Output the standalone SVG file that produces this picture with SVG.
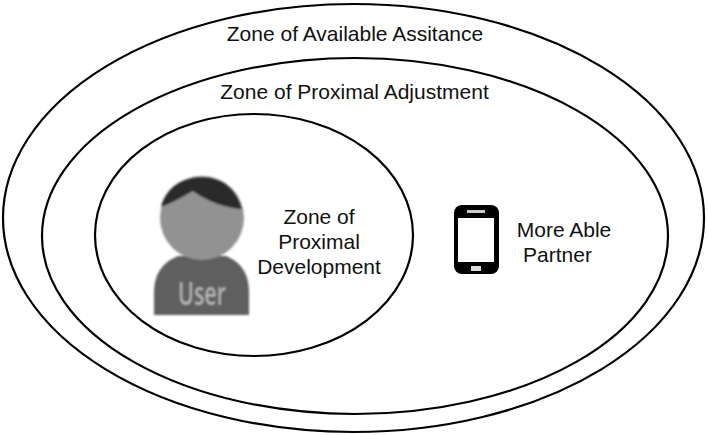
<svg xmlns="http://www.w3.org/2000/svg" width="708" height="435" viewBox="0 0 708 435">
<style>
.z{fill:none;stroke:#000;stroke-width:2.2}
text{font-family:"Liberation Sans",Arial,sans-serif;font-size:21px;fill:#111;text-anchor:middle}
</style>
<defs><filter id="b" x="-10%" y="-10%" width="120%" height="120%"><feGaussianBlur stdDeviation="0.9"/></filter></defs>
<rect width="708" height="435" fill="#fff"/>
<g id="zone-assistance"><ellipse class="z" cx="353.500" cy="218" rx="350.500" ry="214"/><text x="355" y="41">Zone of Available Assitance</text></g>
<g id="zone-adjustment"><ellipse class="z" cx="355" cy="236" rx="313" ry="178"/><text x="354.500" y="99">Zone of Proximal Adjustment</text></g>
<g id="zone-development"><ellipse class="z" cx="254" cy="235" rx="159" ry="121"/><text x="319" y="224">Zone of</text><text x="319" y="249">Proximal</text><text x="319" y="274">Development</text></g>
<g id="user">
<g filter="url(#b)">
<path d="M154 315V293C154 272 164 262 178 256H226C240 262 249 272 249 293V315Z" fill="#5f5f5f"/>
<circle cx="202" cy="218" r="42" fill="#929292"/>
<path d="M161 207C166 187 183 177 202 177C222 177 237 189 242 209C226 208 208 202 193 191C184 196 172 203 161 207Z" fill="#2a2a2a"/>
</g>
<text x="202" y="305" filter="url(#b)" style="font-family:'Open Sans',sans-serif;font-size:33px;font-weight:600;fill:#b8b8b8" textLength="48" lengthAdjust="spacingAndGlyphs">User</text>
</g>
<g id="phone">
<rect x="454" y="205" width="45" height="69" rx="8" fill="#000"/>
<rect x="458" y="218" width="36" height="44" fill="#fff"/>
<rect x="467" y="210" width="18" height="3" fill="#ccc"/>
<rect x="471" y="266" width="10" height="5" fill="#ddd"/>
</g>
<g id="partner"><text x="564" y="237">More Able</text><text x="557.500" y="262">Partner</text></g>
<g id="connectors"/>
</svg>
